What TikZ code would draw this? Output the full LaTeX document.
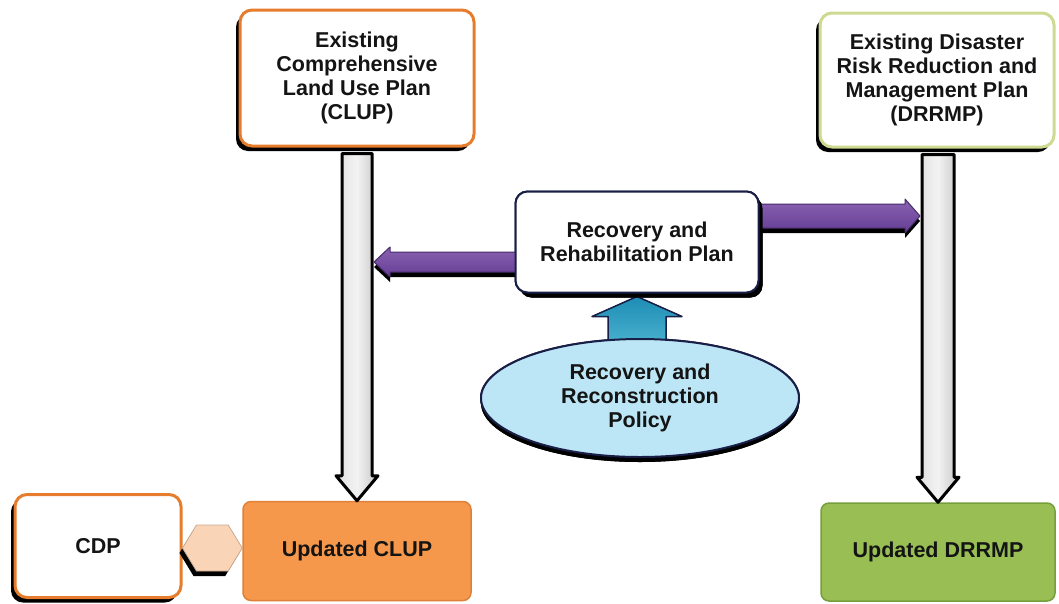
\documentclass[tikz,border=0pt]{standalone}
\usepackage{fontspec}
\setmainfont{Liberation Sans}
\usetikzlibrary{shapes.geometric,shadows,calc}

\definecolor{planorange}{RGB}{230,125,45}
\definecolor{planlime}{RGB}{205,218,145}
\definecolor{updorange}{RGB}{246,152,76}
\definecolor{updorangeline}{RGB}{222,128,58}
\definecolor{updgreen}{RGB}{152,190,84}
\definecolor{updgreenline}{RGB}{118,158,60}
\definecolor{navyline}{RGB}{25,30,70}
\definecolor{policyblue}{RGB}{188,229,245}
\definecolor{purpletop}{RGB}{138,98,178}
\definecolor{purplebot}{RGB}{100,62,148}
\definecolor{tealtop}{RGB}{30,140,180}
\definecolor{tealbot}{RGB}{70,175,205}
\definecolor{peach}{RGB}{250,212,182}
\definecolor{textdark}{RGB}{20,20,20}

\tikzset{
  txt/.style={font=\fontsize{21.5}{24}\selectfont\bfseries, align=center, text=textdark, inner sep=0pt},
  blackshadow/.style 2 args={drop shadow={shadow xshift=#1, shadow yshift=#2, fill=black, opacity=1}},
  planbox/.style={txt, rectangle, rounded corners=12pt, fill=white, line width=3pt, blackshadow={-4pt}{-5pt}},
  rrpbox/.style={txt, rectangle, rounded corners=12pt, fill=white, draw=navyline, line width=2pt, blackshadow={4pt}{-5pt}},
  updbox/.style={txt, rectangle, rounded corners=8pt, line width=1.5pt},
  policy/.style={txt, ellipse, draw=navyline, line width=2pt, fill=policyblue, blackshadow={0pt}{-5pt}},
  grayarrow/.style={draw=black, line width=3pt, line join=round, left color=gray!25, right color=gray!45, middle color=gray!10},
  purplearrow/.style={draw=purplebot!70!black, line width=1pt, line join=round, top color=purpletop, bottom color=purplebot, blackshadow={0pt}{-5pt}},
  tealarrow/.style={draw=navyline, line width=1.5pt, line join=round, top color=tealtop, bottom color=tealbot},
  peacharrow/.style={draw=peach!80!black, line width=0.8pt, line join=round, fill=peach, blackshadow={-3pt}{-5pt}}
}

\begin{document}
\begin{tikzpicture}[x=1pt,y=-1pt]
\useasboundingbox (0,0) rectangle (1059,603);

% boxes
\node[planbox, draw=planorange, minimum width=234pt, minimum height=136pt] (clup) at (357,78)
  {Existing\\Comprehensive\\Land Use Plan\\(CLUP)};
\node[planbox, draw=planlime, minimum width=234pt, minimum height=134pt] (drrmp) at (937,80)
  {Existing Disaster\\Risk Reduction and\\Management Plan\\(DRRMP)};
\node[rrpbox, minimum width=243pt, minimum height=101pt] (rrp) at (637,242)
  {Recovery and\\Rehabilitation Plan};
\node[policy, minimum width=318pt, minimum height=118pt] (pol) at (640,398)
  {Recovery and\\Reconstruction\\Policy};
\node[planbox, draw=planorange, minimum width=166pt, minimum height=103pt] (cdp) at (98,546)
  {CDP};
\node[updbox, fill=updorange, draw=updorangeline, minimum width=228pt, minimum height=99pt] (uclup) at (357,551)
  {Updated CLUP};
\node[updbox, fill=updgreen, draw=updgreenline, minimum width=234pt, minimum height=98pt] (udrrmp) at (938,552)
  {Updated DRRMP};

% gray arrows: existing plans down to updated plans
\coordinate (ca) at (uclup.north |- clup.south);
\coordinate (cb) at (uclup.north);
\draw[grayarrow] ($(ca)+(-15,6)$) -- ($(cb)+(-15,-25)$) -- ($(cb)+(-21,-25)$) -- (cb)
  -- ($(cb)+(21,-25)$) -- ($(cb)+(15,-25)$) -- ($(ca)+(15,6)$) -- cycle;
\coordinate (da) at (udrrmp.north |- drrmp.south);
\coordinate (db) at (udrrmp.north);
\draw[grayarrow] ($(da)+(-16,6)$) -- ($(db)+(-16,-25)$) -- ($(db)+(-21,-25)$) -- (db)
  -- ($(db)+(21,-25)$) -- ($(db)+(16,-25)$) -- ($(da)+(16,6)$) -- cycle;

% purple arrows from the recovery plan
\coordinate (pl) at ($(rrp.west)+(2,20)$);
\coordinate (plt) at ($(pl -| uclup.north)+(17,0)$);
\draw[purplearrow] (pl) ++(0,-10) -- ($(plt)+(16,-10)$) -- ($(plt)+(16,-15)$) -- (plt)
  -- ($(plt)+(16,15)$) -- ($(plt)+(16,10)$) -- ($(pl)+(0,10)$) -- cycle;
\coordinate (pr) at ($(rrp.east)+(-2,-26)$);
\coordinate (prt) at ($(pr -| udrrmp.north)+(-18,0)$);
\draw[purplearrow] (pr) ++(0,-12) -- ($(prt)+(-15,-12)$) -- ($(prt)+(-15,-17)$) -- (prt)
  -- ($(prt)+(-15,17)$) -- ($(prt)+(-15,12)$) -- ($(pr)+(0,12)$) -- cycle;

% teal arrow from the policy up to the recovery plan
\coordinate (tb) at (rrp.south |- pol.north);
\coordinate (tt) at ($(rrp.south)+(0,3)$);
\draw[tealarrow] ($(tb)+(-29,3)$) -- ($(tt)+(-29,20)$) -- ($(tt)+(-45,20)$) -- (tt)
  -- ($(tt)+(45,20)$) -- ($(tt)+(29,20)$) -- ($(tb)+(29,3)$) -- cycle;

% redraw the boxes that the arrows run into
\node[rrpbox, minimum width=243pt, minimum height=101pt] at (rrp) {Recovery and\\Rehabilitation Plan};
\node[policy, minimum width=318pt, minimum height=118pt] at (pol) {Recovery and\\Reconstruction\\Policy};

% double arrow between CDP and updated CLUP
\coordinate (hl) at ($(cdp.east)+(0,2)$);
\coordinate (hr) at (uclup.west |- hl);
\draw[peacharrow] (hl) -- ($(hl)+(14,-23)$) -- ($(hr)+(-14,-23)$) -- (hr)
  -- ($(hr)+(-14,23)$) -- ($(hl)+(14,23)$) -- cycle;
\end{tikzpicture}
\end{document}
